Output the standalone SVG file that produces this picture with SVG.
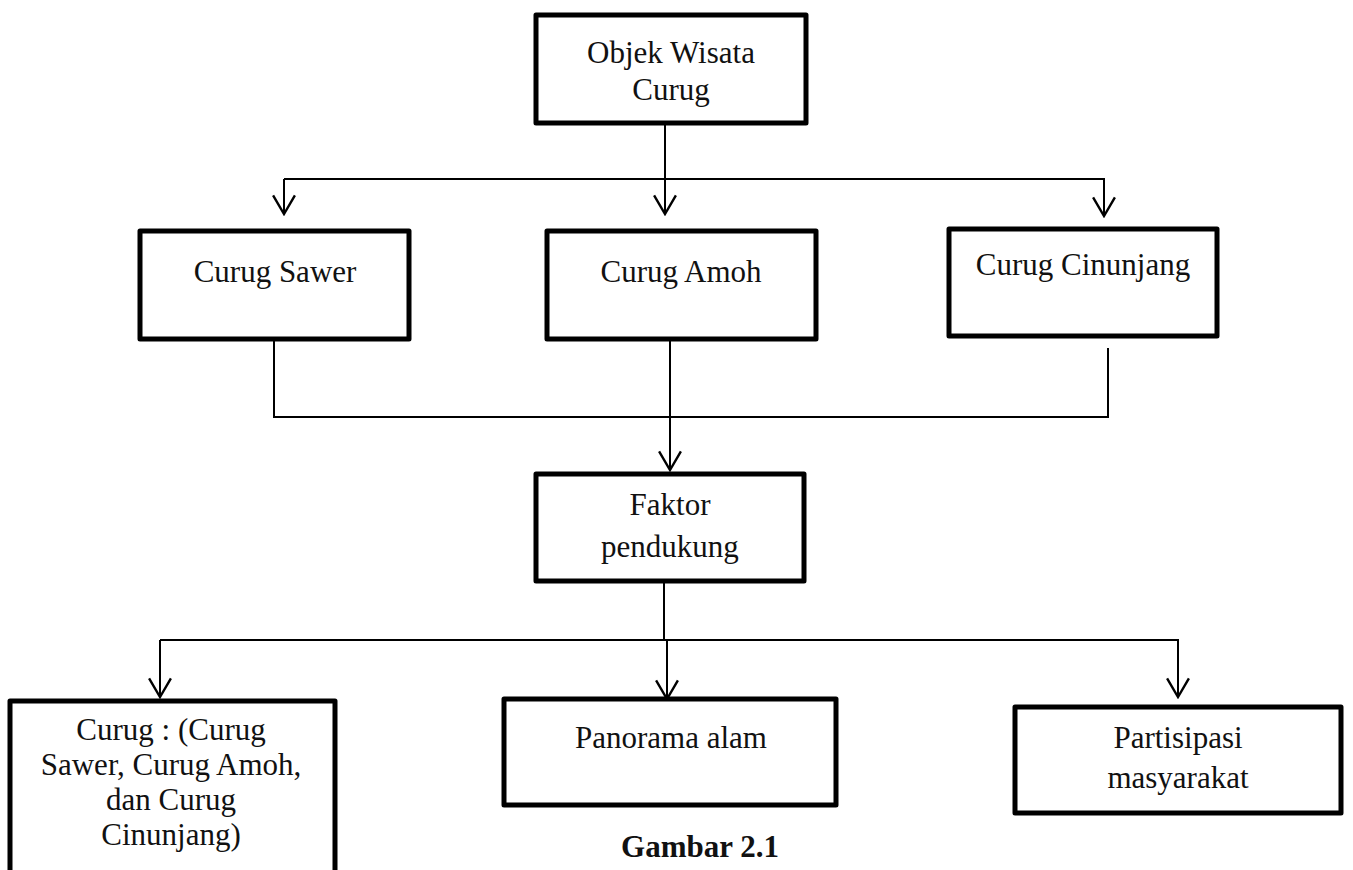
<svg xmlns="http://www.w3.org/2000/svg" width="1353" height="870" viewBox="0 0 1353 870">
<defs>
<style>
.box{fill:#fff;stroke:#000;stroke-width:5;stroke-linejoin:round}
.t{font-family:"Liberation Serif","Times New Roman",serif;font-size:31px;fill:#111;text-anchor:middle}
.cap{font-family:"Liberation Serif","Times New Roman",serif;font-size:31px;font-weight:bold;fill:#111;text-anchor:middle}
.ln{fill:none;stroke:#000;stroke-width:2}
</style>
<marker id="ah" markerUnits="userSpaceOnUse" markerWidth="24" markerHeight="24" refX="20" refY="11" orient="auto" viewBox="0 0 22 22">
<path d="M3,1 L20,11 L3,21" fill="none" stroke="#000" stroke-width="2.2"/>
</marker>
</defs>
<rect width="1353" height="870" fill="#fff"/>
<g id="connectors">
<line class="ln" x1="665" y1="125" x2="665" y2="214" marker-end="url(#ah)"/>
<line class="ln" x1="284" y1="179" x2="1105" y2="179"/>
<line class="ln" x1="284" y1="179" x2="284" y2="214" marker-end="url(#ah)"/>
<line class="ln" x1="1104" y1="179" x2="1104" y2="216" marker-end="url(#ah)"/>
<polyline class="ln" points="274,341 274,417 1108,417 1108,348"/>
<line class="ln" x1="670" y1="341" x2="670" y2="470" marker-end="url(#ah)"/>
<line class="ln" x1="664" y1="583" x2="664" y2="640"/>
<line class="ln" x1="160" y1="640" x2="1179" y2="640"/>
<line class="ln" x1="160" y1="640" x2="160" y2="697" marker-end="url(#ah)"/>
<line class="ln" x1="667" y1="640" x2="667" y2="699" marker-end="url(#ah)"/>
<line class="ln" x1="1178" y1="640" x2="1178" y2="697" marker-end="url(#ah)"/>
</g>
<g id="objek">
<rect class="box" x="536" y="15" width="270" height="108"/>
<text class="t" x="671" y="63">Objek Wisata</text>
<text class="t" x="671" y="100">Curug</text>
</g>
<g id="sawer">
<rect class="box" x="140" y="231" width="269" height="108"/>
<text class="t" x="275" y="282">Curug Sawer</text>
</g>
<g id="amoh">
<rect class="box" x="547" y="231" width="269" height="108"/>
<text class="t" x="681" y="282">Curug Amoh</text>
</g>
<g id="cinunjang">
<rect class="box" x="949" y="229" width="268" height="107"/>
<text class="t" x="1083" y="275">Curug Cinunjang</text>
</g>
<g id="faktor">
<rect class="box" x="536" y="474" width="268" height="107"/>
<text class="t" x="670" y="515">Faktor</text>
<text class="t" x="670" y="557">pendukung</text>
</g>
<g id="curug">
<rect class="box" x="10" y="701" width="325" height="185"/>
<text class="t" x="171" y="740">Curug : (Curug</text>
<text class="t" x="171" y="775">Sawer, Curug Amoh,</text>
<text class="t" x="171" y="810">dan Curug</text>
<text class="t" x="171" y="845">Cinunjang)</text>
</g>
<g id="panorama">
<rect class="box" x="504" y="699" width="332" height="106"/>
<text class="t" x="671" y="748">Panorama alam</text>
</g>
<g id="partisipasi">
<rect class="box" x="1015" y="707" width="326" height="106"/>
<text class="t" x="1178" y="748">Partisipasi</text>
<text class="t" x="1178" y="788">masyarakat</text>
</g>
<text class="cap" x="700" y="857">Gambar 2.1</text>
</svg>
